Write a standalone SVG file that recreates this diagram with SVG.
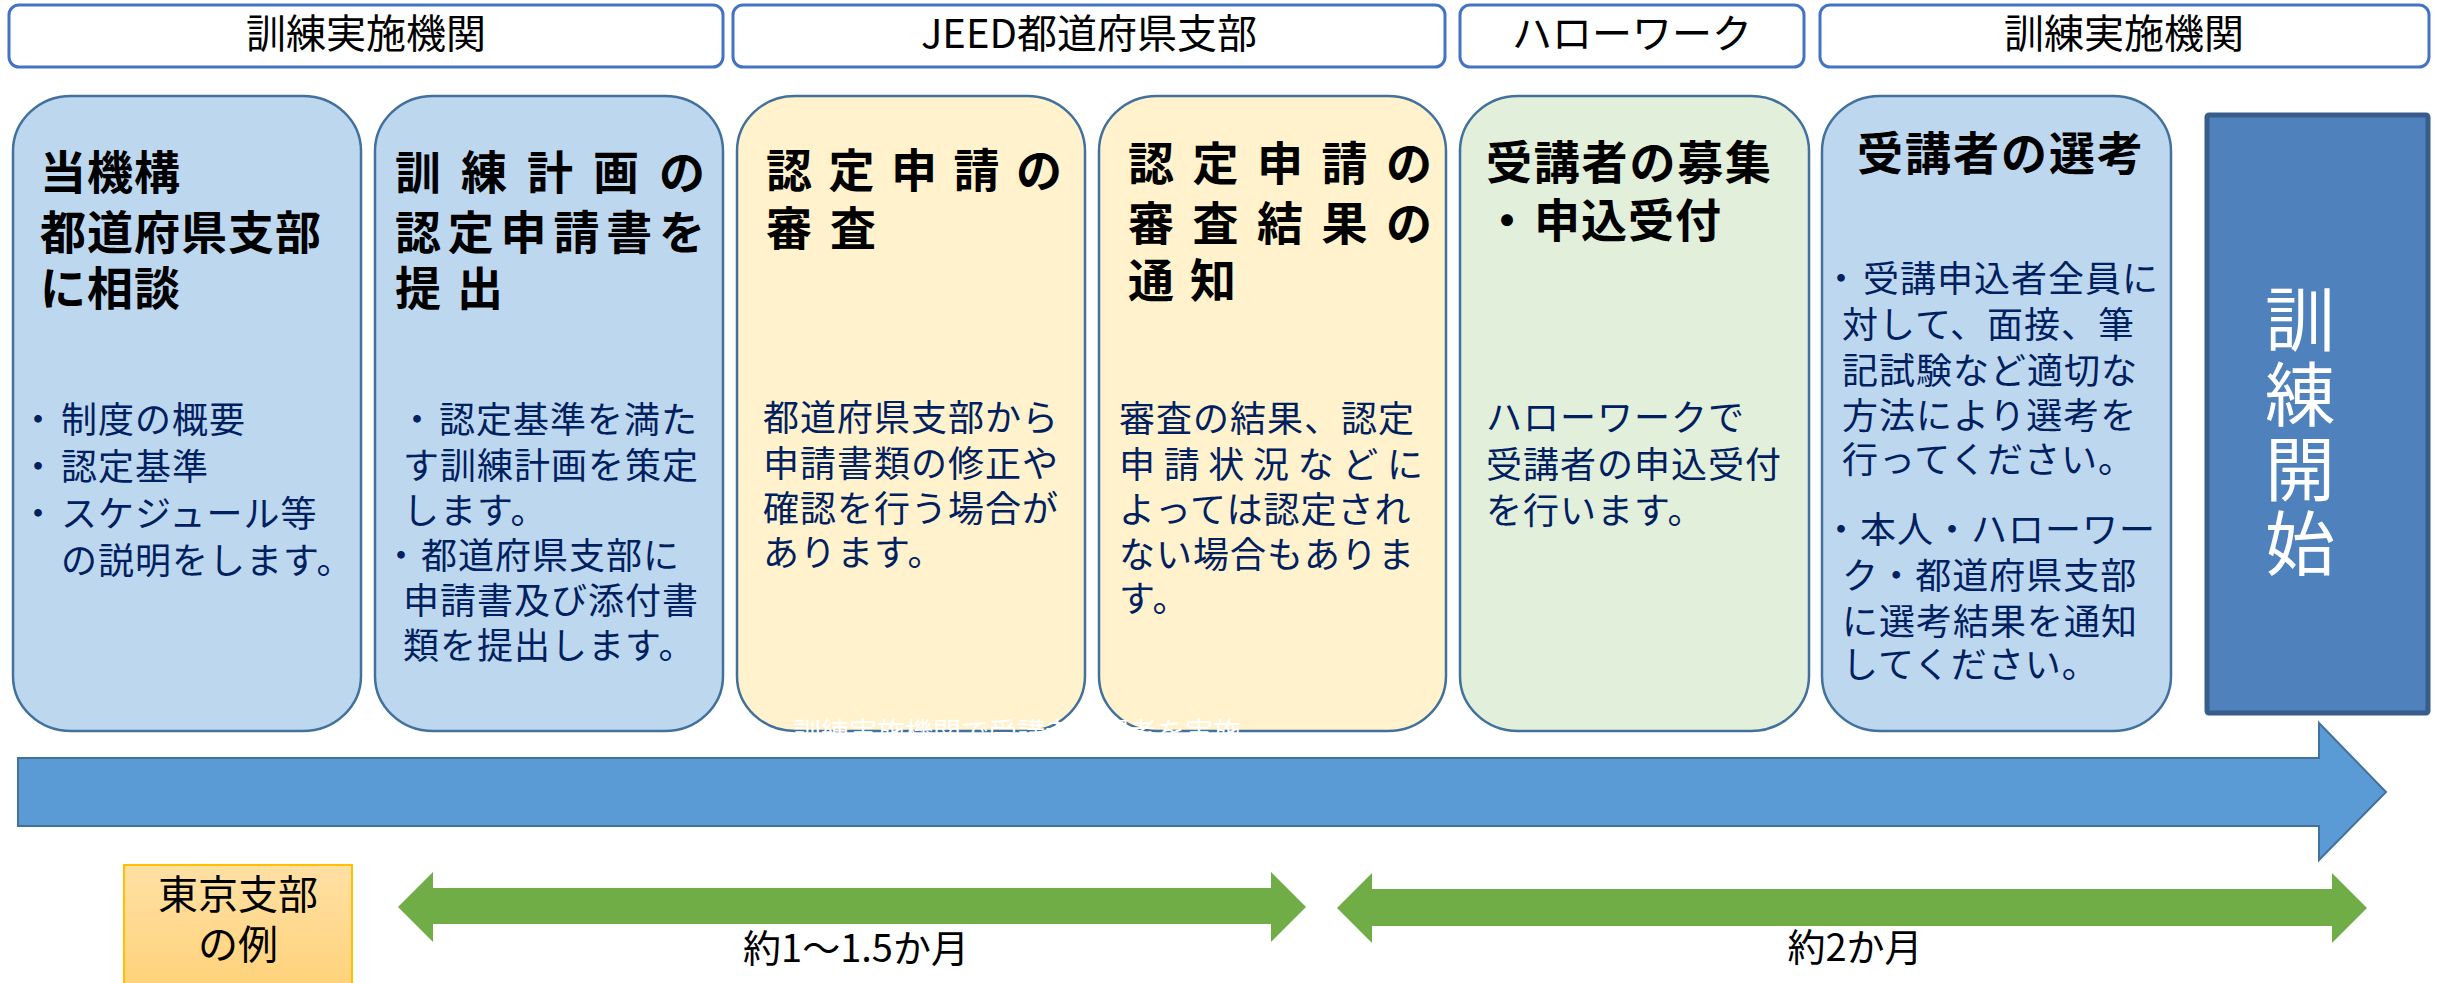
<svg xmlns="http://www.w3.org/2000/svg" width="2438" height="983" viewBox="0 0 2438 983">
<defs>
<linearGradient id="gOrange" x1="0" y1="0" x2="0" y2="1">
<stop offset="0" stop-color="#FFE0A4"/>
<stop offset="1" stop-color="#FFD27A"/>
</linearGradient>
<style>
text{font-family:"Noto Sans CJK JP","Noto Sans",sans-serif;}
.hdr{fill:#fff;stroke:#4472C4;stroke-width:3;}
.hdrt{font-size:40px;fill:#000;text-anchor:middle;}
.box{stroke:#41719C;stroke-width:2.5;}
.blue{fill:#BDD7EE;}
.yel{fill:#FFF2CC;}
.grn{fill:#E2EFDA;}
.ttl{font-size:46px;font-weight:700;fill:#000;}
.body{font-size:36px;fill:#002060;letter-spacing:1px;}
.lbl{font-size:38px;fill:#000;text-anchor:middle;}
</style>
</defs>
<rect width="2438" height="983" fill="#fff"/>

<g id="headers">
<rect class="hdr" x="9" y="5" width="714" height="62" rx="10"/>
<text class="hdrt" x="366" y="48">訓練実施機関</text>
<rect class="hdr" x="733" y="5" width="712" height="62" rx="10"/>
<text class="hdrt" x="1089" y="48">JEED都道府県支部</text>
<rect class="hdr" x="1460" y="5" width="344" height="62" rx="10"/>
<text class="hdrt" x="1632" y="48">ハローワーク</text>
<rect class="hdr" x="1820" y="5" width="609" height="62" rx="10"/>
<text class="hdrt" x="2124" y="48">訓練実施機関</text>
</g>

<g id="timeline">
<polygon points="18,758 2319,758 2319,723 2386,792 2319,860 2319,826 18,826" fill="#5B9BD5" stroke="#41719C" stroke-width="2"/>
<polygon points="398,907 433,872 433,888 1271,888 1271,872 1306,907 1271,942 1271,924 433,924 433,942" fill="#70AD47"/>
<polygon points="1337,908 1372,873 1372,889 2332,889 2332,873 2367,908 2332,943 2332,926 1372,926 1372,943" fill="#70AD47"/>
<text class="lbl" x="856" y="962">約1～1.5か月</text>
<text class="lbl" x="1855" y="961">約2か月</text>
</g>

<g id="step1">
<rect class="box blue" x="13" y="96" width="348" height="635" rx="58" ry="55"/>
<text class="ttl" letter-spacing="1"><tspan x="40" y="189">当機構</tspan><tspan x="40" y="249">都道府県支部</tspan><tspan x="40" y="305">に相談</tspan></text>
<text class="body"><tspan x="20" y="433">・</tspan><tspan x="61" y="433">制度の概要</tspan><tspan x="20" y="480">・</tspan><tspan x="61" y="480">認定基準</tspan><tspan x="20" y="527">・</tspan><tspan x="61" y="527">スケジュール等</tspan><tspan x="61" y="574">の説明をします。</tspan></text>
</g>

<g id="step2">
<rect class="box blue" x="375" y="96" width="348" height="635" rx="58" ry="55"/>
<text class="ttl"><tspan x="395 461 527 593 659" y="189">訓練計画の</tspan><tspan x="395 447.8 500.6 553.4 606.2 659" y="249">認定申請書を</tspan><tspan x="395 457" y="305">提出</tspan></text>
<text class="body"><tspan x="399" y="433">・</tspan><tspan x="439" y="433">認定基準を満た</tspan><tspan x="403" y="479">す訓練計画を策定</tspan><tspan x="403" y="524">します。</tspan><tspan x="383" y="569">・</tspan><tspan x="421" y="569">都道府県支部に</tspan><tspan x="403" y="614">申請書及び添付書</tspan><tspan x="403" y="659">類を提出します。</tspan></text>
</g>

<g id="step3">
<rect class="box yel" x="737" y="96" width="348" height="635" rx="58" ry="55"/>
<text class="ttl"><tspan x="766 828.5 891 953.5 1016" y="187">認定申請の</tspan><tspan x="766 830" y="245">審査</tspan></text>
<text class="body"><tspan x="763" y="431">都道府県支部から</tspan><tspan x="763" y="477">申請書類の修正や</tspan><tspan x="763" y="522">確認を行う場合が</tspan><tspan x="763" y="566">あります。</tspan></text>
</g>

<g id="step4">
<rect class="box yel" x="1099" y="96" width="347" height="635" rx="58" ry="55"/>
<text class="ttl"><tspan x="1128 1192.5 1257 1321.5 1386" y="180">認定申請の</tspan><tspan x="1128 1192.5 1257 1321.5 1386" y="240">審査結果の</tspan><tspan x="1128 1190" y="297">通知</tspan></text>
<text class="body" letter-spacing="2"><tspan x="1119" y="432">審査の結果、認定</tspan><tspan x="1119 1163.7 1208.3 1253 1297.7 1342.3 1387" y="478">申請状況などに</tspan><tspan x="1119" y="523">よっては認定され</tspan><tspan x="1119" y="568">ない場合もありま</tspan><tspan x="1119" y="612">す。</tspan></text>
</g>

<g id="note">
<text x="793" y="743" font-size="28" fill="#fff">訓練実施機関で受講者の選考を実施</text>
</g>

<g id="step5">
<rect class="box grn" x="1460" y="96" width="349" height="635" rx="58" ry="55"/>
<text class="ttl"><tspan x="1486" y="179" letter-spacing="1.8">受講者の募集</tspan><tspan x="1484" y="237">・</tspan><tspan x="1534" y="237" letter-spacing="1">申込受付</tspan></text>
<text class="body"><tspan x="1486" y="431">ハローワークで</tspan><tspan x="1486" y="478">受講者の申込受付</tspan><tspan x="1486" y="524">を行います。</tspan></text>
</g>

<g id="step6">
<rect class="box blue" x="1822" y="96" width="349" height="635" rx="58" ry="55"/>
<text class="ttl" x="1857" y="170" letter-spacing="2">受講者の選考</text>
<text class="body"><tspan x="1823" y="292">・</tspan><tspan x="1863" y="292">受講申込者全員に</tspan><tspan x="1842" y="338">対して、面接、筆</tspan><tspan x="1842" y="384">記試験など適切な</tspan><tspan x="1842" y="429">方法により選考を</tspan><tspan x="1842" y="473">行ってください。</tspan><tspan x="1823" y="543">・</tspan><tspan x="1860" y="543">本人・ハローワー</tspan><tspan x="1842" y="589">ク・都道府県支部</tspan><tspan x="1842" y="635">に選考結果を通知</tspan><tspan x="1842" y="678">してください。</tspan></text>
</g>

<g id="start">
<rect x="2207" y="115" width="221" height="598" rx="2" fill="#4F81BD" stroke="#385D8A" stroke-width="5"/>
<text font-size="70" fill="#fff" text-anchor="middle"><tspan x="2300" y="346">訓</tspan><tspan x="2300" y="421">練</tspan><tspan x="2300" y="496">開</tspan><tspan x="2300" y="570">始</tspan></text>
</g>

<g id="example">
<rect x="124" y="865" width="228" height="125" fill="url(#gOrange)" stroke="#FFC000" stroke-width="2"/>
<text font-size="40" fill="#000" text-anchor="middle"><tspan x="238" y="909">東京支部</tspan><tspan x="238" y="959">の例</tspan></text>
</g>
</svg>
